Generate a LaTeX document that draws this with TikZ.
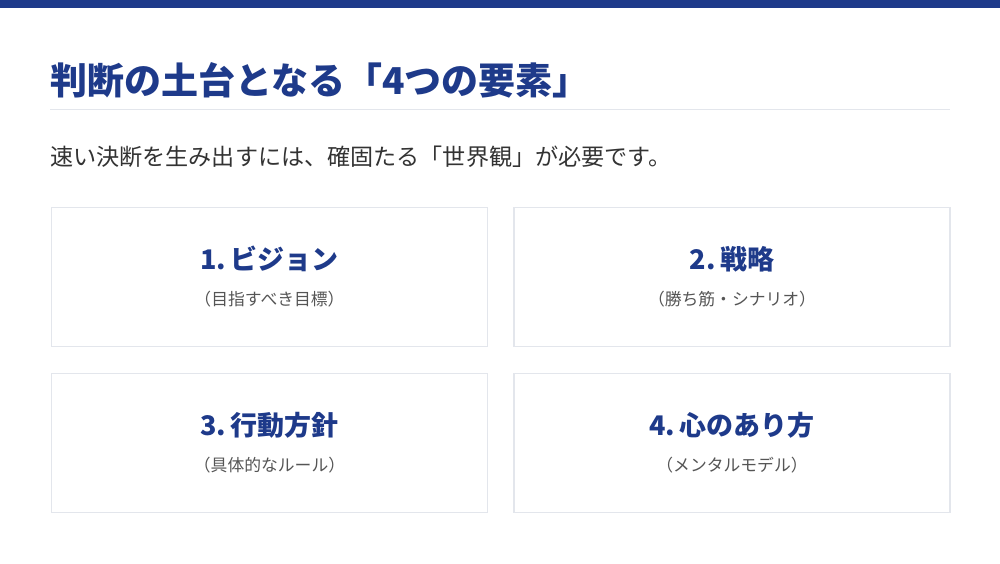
\documentclass[tikz,border=0pt]{standalone}
\usepackage{fontspec}
\setmainfont{Noto Sans CJK JP}
\usetikzlibrary{positioning}
\definecolor{navy}{HTML}{1E3A8A}
\definecolor{rulegray}{HTML}{E3E6EC}
\definecolor{bodygray}{HTML}{333333}
\definecolor{subgray}{HTML}{555555}
\tikzset{card/.style={draw=rulegray,line width=1.5pt,fill=white,
        minimum width=436pt,minimum height=139pt,anchor=north west,inner sep=0pt}}
\tikzset{head/.style={text=navy,font=\fontsize{27}{31}\selectfont\bfseries,inner sep=0pt}}
\tikzset{note/.style={text=subgray,font=\fontsize{16.8}{20}\selectfont,inner sep=0pt}}
\begin{document}
\begin{tikzpicture}[x=1pt,y=-1pt]
    \useasboundingbox[fill=white] (0,0) rectangle (1000,563);
    \fill[navy] (0,0) rectangle (1000,8);
    % title and rule
    \node[anchor=west,inner sep=0pt,text=navy,font=\fontsize{37}{41}\selectfont\bfseries] (title) at (50,80) {判断の土台となる「4つの要素」};
    \coordinate (ruleL) at (50,109.5);
    \coordinate (ruleR) at (950,109.5);
    \draw[rulegray,line width=1.2pt] (ruleL) -- (ruleR);
    \node[anchor=west,inner sep=0pt,text=bodygray,font=\fontsize{23.1}{27}\selectfont] (lead) at (50,157) {速い決断を生み出すには、確固たる「世界観」が必要です。};
    % four cards
    \node[card] (c1) at (50.75,206.75) {};
    \node[card] (c2) at (513.25,206.75) {};
    \node[card] (c3) at (50.75,372.75) {};
    \node[card] (c4) at (513.25,372.75) {};
    \foreach \c/\h/\n in {c1/1.\,ビジョン/（目指すべき目標）,
                          c2/2.\,戦略/（勝ち筋・シナリオ）,
                          c3/3.\,行動方針/（具体的なルール）,
                          c4/4.\,心のあり方/（メンタルモデル）}{
        \node[head] (\c h) at ([yshift=18pt]\c.center) {\h};
        \node[note] (\c n) at ([yshift=-22pt]\c.center) {\n};
    }
\end{tikzpicture}
\end{document}
